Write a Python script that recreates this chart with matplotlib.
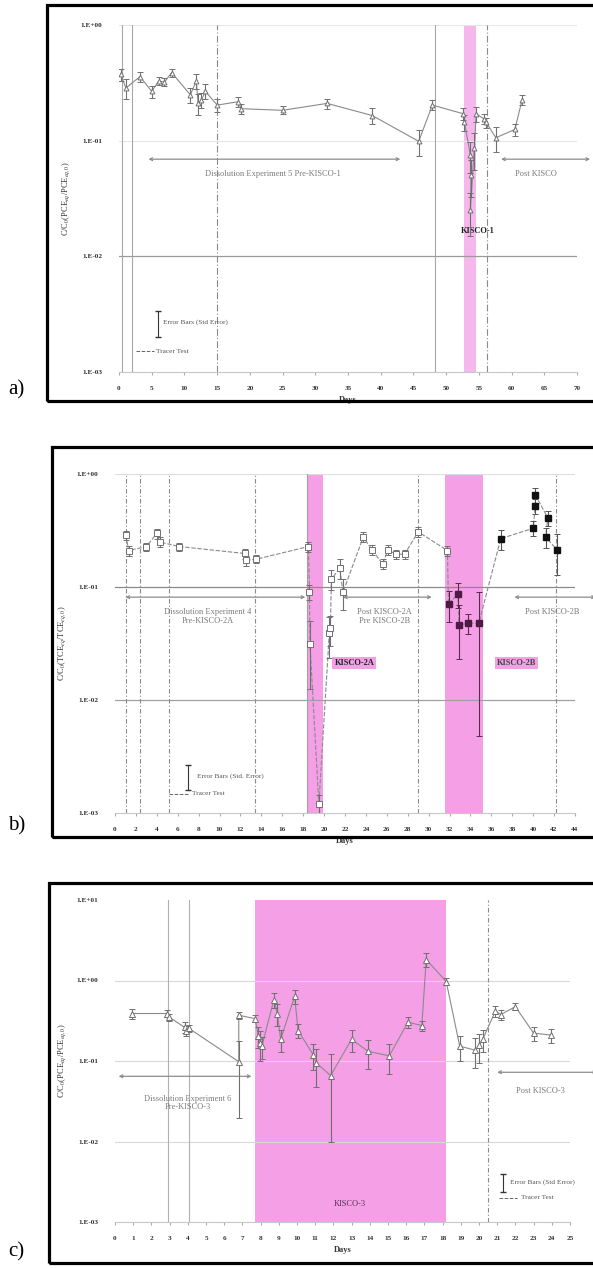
import matplotlib
matplotlib.use("Agg")
import matplotlib.pyplot as plt
from matplotlib.patches import Rectangle
from matplotlib.lines import Line2D
import numpy as np

plt.rcParams['font.family'] = ['Liberation Serif', 'DejaVu Serif']
plt.rcParams['mathtext.fontset'] = 'stix'

# ---------------- data ----------------
# panel a
a_days = [0.26, 1.05, 3.2, 5.0, 6.05, 6.95, 8.05, 10.9, 11.8, 12.1, 12.6, 13.2, 15.0, 18.2, 18.7,
          25.0, 31.8, 38.7, 45.8, 47.9, 52.6, 52.8, 53.7, 53.8, 53.7, 54.3, 54.6, 55.8, 56.1,
          57.6, 60.5, 61.6]
a_vals = [0.375, 0.285, 0.358, 0.267, 0.327, 0.321, 0.388, 0.249, 0.327, 0.21, 0.224, 0.267, 0.203,
          0.217, 0.189, 0.183, 0.21, 0.165, 0.0987, 0.203, 0.171, 0.144, 0.075, 0.05, 0.025, 0.086,
          0.171, 0.154, 0.144, 0.106, 0.125, 0.224]
a_err = [0.12, 0.2, 0.1, 0.12, 0.08, 0.08, 0.08, 0.15, 0.15, 0.2, 0.15, 0.15, 0.12, 0.1, 0.1,
         0.08, 0.1, 0.15, 0.25, 0.1, 0.12, 0.15, 0.3, 0.35, 0.4, 0.35, 0.15, 0.1, 0.1, 0.25, 0.12, 0.1]
a_kisco = (52.75, 54.6)
a_tracer = [15.0, 56.3]
a_other_lines = [0.5, 2.0, 48.3]

# panel b
b_open_days = [1.05, 1.3, 3.0, 4.0, 4.3, 6.15, 12.4, 12.5, 13.5, 18.5, 18.6, 18.65, 19.5, 20.5,
               20.6, 20.7, 21.5, 21.8, 23.75, 24.6, 25.6, 26.1, 26.9, 27.7, 29.0, 31.8]
b_open_vals = [0.287, 0.21, 0.228, 0.298, 0.25, 0.228, 0.198, 0.172, 0.176, 0.228, 0.091, 0.031,
               0.0012, 0.039, 0.043, 0.117, 0.147, 0.0897, 0.277, 0.212, 0.16, 0.212, 0.195,
               0.195, 0.308, 0.21]
b_open_err = [0.1, 0.1, 0.08, 0.1, 0.1, 0.08, 0.1, 0.1, 0.08, 0.1, 0.15, 0.6, 0.2, 0.4, 0.3,
              0.2, 0.2, 0.3, 0.1, 0.1, 0.1, 0.1, 0.1, 0.1, 0.1, 0.1]
b_2b_days = [31.9, 32.8, 32.9, 33.8, 34.8]
b_2b_vals = [0.0703, 0.0869, 0.0461, 0.0478, 0.0478]
b_2b_err = [0.3, 0.25, 0.5, 0.2, 0.9]
b_post_days = [36.9, 40.0, 40.2, 40.2, 41.4, 41.2, 42.3]
b_post_vals = [0.268, 0.331, 0.523, 0.656, 0.409, 0.277, 0.212]
b_post_err = [0.2, 0.15, 0.15, 0.15, 0.15, 0.2, 0.4]
b_kisco_a = (18.4, 19.9)
b_kisco_b = (31.6, 35.2)
b_tracer = [1.05, 2.4, 5.2, 13.4, 29.0, 42.2]
b_other_lines = [18.4]

# panel c
c_days = [0.95, 2.87, 2.97, 3.82, 3.91, 4.05, 6.8, 6.8, 7.7, 7.88, 7.98, 8.07, 8.73, 8.92, 9.1,
          9.87, 10.06, 10.9, 11.04, 11.85, 13.0, 13.9, 15.07, 16.1, 16.86, 17.1, 18.2, 18.94,
          19.8, 20.0, 20.2, 20.9, 21.2, 22.0, 23.0, 23.95]
c_vals = [0.389, 0.389, 0.352, 0.262, 0.238, 0.255, 0.098, 0.37, 0.336, 0.205, 0.168, 0.153,
          0.577, 0.389, 0.186, 0.635, 0.238, 0.119, 0.0953, 0.066, 0.186, 0.132, 0.116, 0.304,
          0.275, 1.82, 0.97, 0.153, 0.136, 0.156, 0.186, 0.417, 0.378, 0.473, 0.222, 0.21]
c_err = [0.15, 0.1, 0.1, 0.15, 0.15, 0.1, 0.8, 0.1, 0.1, 0.3, 0.4, 0.3, 0.2, 0.3, 0.3,
         0.2, 0.2, 0.35, 0.5, 0.85, 0.3, 0.4, 0.4, 0.15, 0.15, 0.2, 0.1, 0.35, 0.4, 0.4, 0.3,
         0.15, 0.15, 0.1, 0.2, 0.2]
c_kisco = (7.7, 18.2)
c_tracer = [20.5]
c_other_lines = [2.9, 4.05]

# ---------------- layout ----------------
W, H = 593, 1268
fig = plt.figure(figsize=(W / 100, H / 100), dpi=100)


def ax_at(l, r, t, b):
    return fig.add_axes([l / W, 1 - b / H, (r - l) / W, (b - t) / H])


def frame(l, t, b, label):
    fig.patches.append(Rectangle((l / W, 1 - b / H), (W + 20 - l) / W, (b - t) / H,
                                 transform=fig.transFigure, fill=False, lw=2.3,
                                 ec='black', clip_on=False))
    fig.text(8 / W, 1 - (b - 2) / H, label, fontsize=15, ha='left', va='bottom',
             family=['Liberation Serif', 'DejaVu Serif'])


LINE = '#8a8a8a'
MK = '#707070'
PINK_A = '#f6b8ec'
PINK = '#f5a0e6'
TXT = '#7a7a7a'
FS_T = 5.2
FS = 6.0


def style_axes(ax, xmax, xstep, yticks, ylabels, ylabel):
    ax.set_yscale('log')
    ax.set_xlim(0, xmax)
    ax.set_ylim(yticks[0], yticks[-1])
    for s in ['top', 'right', 'left']:
        ax.spines[s].set_visible(False)
    ax.spines['bottom'].set_color('#c8c8c8')
    ax.spines['bottom'].set_linewidth(0.8)
    ax.set_xticks(np.arange(0, xmax + 0.01, xstep))
    ax.set_xticklabels([f"{v:g}" for v in np.arange(0, xmax + 0.01, xstep)],
                       fontsize=FS_T, fontweight='bold', color='#333333')
    ax.tick_params(axis='x', length=2, color='#aaaaaa', pad=8)
    ax.set_yticks(yticks)
    ax.set_yticklabels(ylabels, fontsize=FS_T, fontweight='bold', color='#333333')
    ax.yaxis.set_minor_locator(matplotlib.ticker.NullLocator())
    ax.tick_params(axis='y', length=0, pad=12)
    ax.set_xlabel('Days', fontsize=FS, fontweight='bold', color='#333333', labelpad=4)
    ax.set_ylabel(ylabel, fontsize=FS, color='#333333', labelpad=6)
    ax.patch.set_alpha(0)


def eb(ax, x, y, e, **kw):
    y = np.asarray(y)
    e = np.asarray(e)
    lo = y * e
    hi = y * e
    ax.errorbar(x, y, yerr=[lo, hi], fmt='none', ecolor=kw.pop('ecolor', MK), elinewidth=0.8,
                capsize=2, capthick=0.7, zorder=4)


def legend_items(ax, x_sym, y1, x_txt1, txt1, x_l0, x_l1, y2, x_txt2):
    ax.errorbar([x_sym], [y1], yerr=[[y1 * 0.25], [y1 * 0.25]], fmt='none', ecolor='#333333',
                elinewidth=0.8, capsize=2, zorder=5)
    ax.text(x_txt1, y1, txt1, fontsize=5.2, color='#555555', va='center', ha='left')
    ax.plot([x_l0, x_l1], [y2, y2], ls='--', color='#666666', lw=0.7)
    ax.text(x_txt2, y2, 'Tracer Test', fontsize=5.2, color='#555555', va='center', ha='left')


def harrow(ax, x0, x1, y):
    ax.annotate('', xy=(x0, y), xytext=(x1, y),
                arrowprops=dict(arrowstyle='<->', color='#8c8c8c', lw=0.9,
                                shrinkA=0, shrinkB=0, mutation_scale=5),
                annotation_clip=False)


# ================= panel a =================
frame(47, 5, 401, 'a)')
ax = ax_at(119, 577, 25, 372)
style_axes(ax, 70, 5, [1e-3, 1e-2, 1e-1, 1e0], ['1.E-03', '1.E-02', '1.E-01', '1.E+00'],
           r'C/C$_0$(PCE$_{eq}$/PCE$_{eq,0}$)')
ax.axvspan(*a_kisco, color=PINK_A, lw=0, zorder=0)
ax.axhline(1e-2, color='#9a9a9a', lw=0.9, zorder=1)
ax.axhline(1e-1, color='#e6e6e6', lw=0.8, zorder=1)
ax.axhline(1e0, color='#e6e6e6', lw=0.8, zorder=1)
for d in a_other_lines:
    ax.axvline(d, color='#a8a8a8', lw=0.8, zorder=1)
for d in a_tracer:
    ax.axvline(d, color='#8a8a8a', lw=0.8, ls=(0, (6, 2, 1, 2)), zorder=1)
ax.plot(a_days, a_vals, color=LINE, lw=0.8, zorder=3)
eb(ax, a_days, a_vals, a_err)
ax.plot(a_days, a_vals, ls='none', marker='^', ms=3.5, mfc='white', mec=MK, mew=0.7, zorder=5)
harrow(ax, 4.5, 43, 10 ** -1.16)
ax.text(23.5, 10 ** -1.29, 'Dissolution Experiment 5 Pre-KISCO-1', fontsize=FS, color=TXT,
        ha='center', va='center')
harrow(ax, 58.4, 72, 10 ** -1.16)
ax.text(63.8, 10 ** -1.29, 'Post KISCO', fontsize=FS, color=TXT, ha='center', va='center')
ax.text(54.8, 10 ** -1.78, 'KISCO-1', fontsize=FS, fontweight='bold', color='#222222',
        ha='center', va='center')
legend_items(ax, 6.0, 10 ** -2.57, 6.8, 'Error Bars (Std Error)', 2.6, 5.3, 10 ** -2.82, 5.6)

# ================= panel b =================
frame(52, 447, 837, 'b)')
ax = ax_at(115, 575, 474, 813)
style_axes(ax, 44, 2, [1e-3, 1e-2, 1e-1, 1e0], ['1.E-03', '1.E-02', '1.E-01', '1.E+00'],
           r'C/C$_0$(TCE$_{eq}$/TCE$_{eq,0}$)')
ax.axvspan(*b_kisco_a, color=PINK, lw=0, zorder=0)
ax.axvspan(*b_kisco_b, color=PINK, lw=0, zorder=0)
ax.axhline(1e-2, color='#a0a0a0', lw=0.9, zorder=1)
ax.axhline(1e-1, color='#8a8a8a', lw=0.9, zorder=1)
ax.axhline(1e0, color='#dddddd', lw=0.8, zorder=1)
for d in b_other_lines:
    ax.axvline(d, color='#a0a0a0', lw=0.8, zorder=1)
for d in b_tracer:
    ax.axvline(d, color='#8a8a8a', lw=0.8, ls=(0, (4, 2, 1, 2)), zorder=1)
all_d = b_open_days + b_2b_days + b_post_days
all_v = b_open_vals + b_2b_vals + b_post_vals
ax.plot(all_d, all_v, color=LINE, lw=0.8, ls=(0, (4, 1.5)), zorder=3)
eb(ax, b_open_days, b_open_vals, b_open_err)
eb(ax, b_2b_days, b_2b_vals, b_2b_err, ecolor='#5a2a50')
eb(ax, b_post_days, b_post_vals, b_post_err, ecolor='#555555')
ax.plot(b_open_days, b_open_vals, ls='none', marker='s', ms=4.5, mfc='white', mec=MK, mew=0.7,
        zorder=5)
ax.plot(b_2b_days, b_2b_vals, ls='none', marker='s', ms=5, mfc='#4e1a45', mec='#4e1a45', zorder=5)
ax.plot(b_post_days, b_post_vals, ls='none', marker='s', ms=5, mfc='#111111', mec='#111111',
        zorder=5)
harrow(ax, 1.0, 18.2, 10 ** -1.09)
ax.text(8.9, 10 ** -1.26, 'Dissolution Experiment 4\nPre-KISCO-2A', fontsize=FS, color=TXT,
        ha='center', va='center', linespacing=1.1)
harrow(ax, 21.8, 30.3, 10 ** -1.09)
ax.text(25.8, 10 ** -1.26, 'Post KISCO-2A\nPre KISCO-2B', fontsize=FS, color=TXT,
        ha='center', va='center', linespacing=1.1)
harrow(ax, 38.2, 46, 10 ** -1.09)
ax.text(41.8, 10 ** -1.22, 'Post KISCO-2B', fontsize=FS, color=TXT, ha='center', va='center')
ax.text(22.9, 10 ** -1.67, 'KISCO-2A', fontsize=FS, fontweight='bold', color='#222222',
        ha='center', va='center', bbox=dict(fc=PINK, ec='none', pad=1.5))
ax.text(38.4, 10 ** -1.67, 'KISCO-2B', fontsize=FS, fontweight='bold', color='#444444',
        ha='center', va='center', bbox=dict(fc=PINK, ec='none', pad=1.5))
legend_items(ax, 7.0, 10 ** -2.67, 7.8, 'Error Bars (Std. Error)', 5.2, 7.1, 10 ** -2.83, 7.4)

# ================= panel c =================
frame(49, 883, 1263, 'c)')
ax = ax_at(115, 570, 900, 1222)
style_axes(ax, 25, 1, [1e-3, 1e-2, 1e-1, 1e0, 1e1],
           ['1.E-03', '1.E-02', '1.E-01', '1.E+00', '1.E+01'],
           r'C/C$_0$(PCE$_{eq}$/PCE$_{eq,0}$)')
ax.axvspan(*c_kisco, color=PINK, lw=0, zorder=0)
for yv in [1e-2, 1e-1, 1e0]:
    ax.axhline(yv, color='#d8d8d8', lw=0.8, zorder=1)
for d in c_other_lines:
    ax.axvline(d, color='#b0b0b0', lw=0.8, zorder=1)
for d in c_tracer:
    ax.axvline(d, color='#8a8a8a', lw=0.8, ls=(0, (4, 2, 1, 2)), zorder=1)
ax.plot(c_days, c_vals, color=LINE, lw=0.8, zorder=3)
eb(ax, c_days, c_vals, c_err)
ax.plot(c_days, c_vals, ls='none', marker='^', ms=4, mfc='white', mec=MK, mew=0.7, zorder=5)
harrow(ax, 0.2, 7.5, 10 ** -1.19)
ax.text(4.0, 10 ** -1.52, 'Dissolution Experiment 6\nPre-KISCO-3', fontsize=FS, color=TXT,
        ha='center', va='center', linespacing=1.1)
harrow(ax, 21.0, 26.5, 10 ** -1.14)
ax.text(23.4, 10 ** -1.37, 'Post KISCO-3', fontsize=FS, color=TXT, ha='center', va='center')
ax.text(12.9, 10 ** -2.78, 'KISCO-3', fontsize=FS, color='#553355', ha='center', va='center')
legend_items(ax, 21.3, 10 ** -2.5, 21.7, 'Error Bars (Std Error)', 21.1, 22.1, 10 ** -2.7, 22.3)

fig.savefig('out.png', dpi=100)
